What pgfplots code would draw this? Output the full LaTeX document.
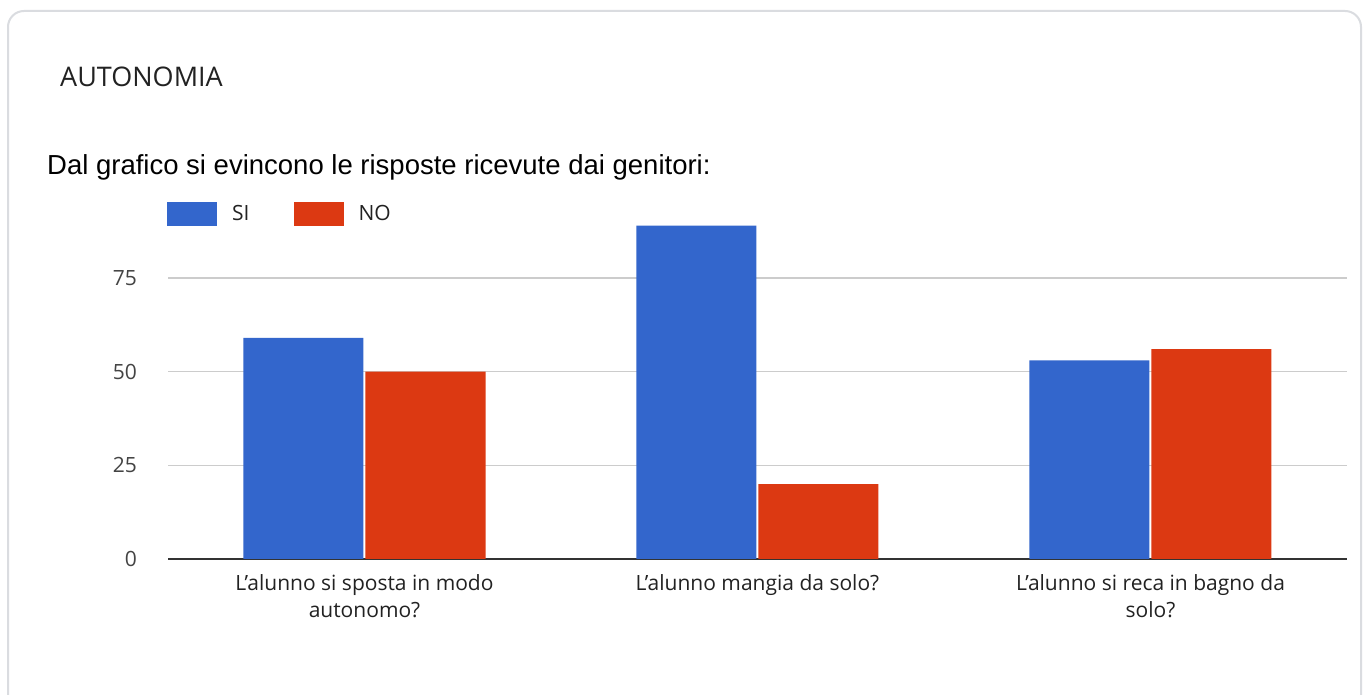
\documentclass[border=0pt]{standalone}
\usepackage{pgfplots}
\pgfplotsset{compat=1.18}
\usepackage{fontspec}
\setmainfont{Open Sans}
\newfontfamily\arial{Liberation Sans}
\definecolor{gblue}{HTML}{3366CC}
\definecolor{gred}{HTML}{DC3912}
\definecolor{cardgray}{HTML}{DADCE0}
\definecolor{gridgray}{HTML}{CCCCCC}
\definecolor{basegray}{HTML}{333333}
\definecolor{labgray}{HTML}{222222}
\definecolor{tickgray}{HTML}{444444}
\begin{document}
\begin{tikzpicture}[x=1pt,y=1pt]
\useasboundingbox (0,0) rectangle (1364,695);
\fill[white] (0,0) rectangle (1364,695);
\begin{scope}
  \clip (0,0) rectangle (1364,695);
  \draw[cardgray, line width=2pt, rounded corners=16pt] (8,684) rectangle (1361,-40);
\end{scope}
\node[anchor=base west, inner sep=0pt, text=labgray, font=\fontsize{27}{32}\selectfont] at (60,608) {AUTONOMIA};
\node[anchor=base west, inner sep=0pt, text=black, font=\arial\fontsize{27.5}{33}\selectfont] at (47,520) {Dal grafico si evincono le risposte ricevute dai genitori:};
\begin{axis}[
  at={(168pt,136pt)}, anchor=south west,
  scale only axis, width=1179pt, height=337.2pt,
  xmin=-0.5, xmax=2.5, ymin=0, ymax=90,
  ybar=2pt, bar width=120pt,
  axis x line*=bottom, axis y line*=left,
  y axis line style={draw=none},
  x axis line style={draw=basegray, line width=2pt, -},
  major tick length=0pt,
  xtick={0,1,2},
  xticklabels={{L’alunno si sposta in modo\\autonomo?},{L’alunno mangia da solo?},{L’alunno si reca in bagno da\\solo?}},
  xticklabel style={align=center, inner sep=0pt, anchor=north, yshift=-15pt, text=labgray,
    font=\fontsize{21}{27}\selectfont},
  ytick={0,25,50,75},
  ymajorgrids, grid style={draw=gridgray, line width=1.5pt},
  /pgf/number format/assume math mode=true,
  yticklabel style={anchor=east, inner sep=0pt, xshift=-31pt, text=tickgray, font=\fontsize{21}{25}\selectfont},
  legend columns=2,
  legend style={draw=none, fill=none, inner sep=0pt, at={(0,1)}, anchor=west, xshift=-1pt, yshift=8pt,
    font=\fontsize{21}{25}\selectfont, text=labgray,
    nodes={inner sep=0pt},
    /tikz/every odd column/.append style={column sep=15pt},
    /tikz/every even column/.append style={column sep=44pt}},
  clip=false,
]
\addplot[fill=gblue, draw=none, legend image code/.code={\fill[gblue] (0pt,-12pt) rectangle (50pt,12pt);}]
  coordinates {(0,59) (1,89) (2,53)};
\addplot[fill=gred, draw=none, legend image code/.code={\fill[gred] (0pt,-12pt) rectangle (50pt,12pt);}]
  coordinates {(0,50) (1,20) (2,56)};
\legend{SI, NO}
\end{axis}
\end{tikzpicture}
\end{document}
